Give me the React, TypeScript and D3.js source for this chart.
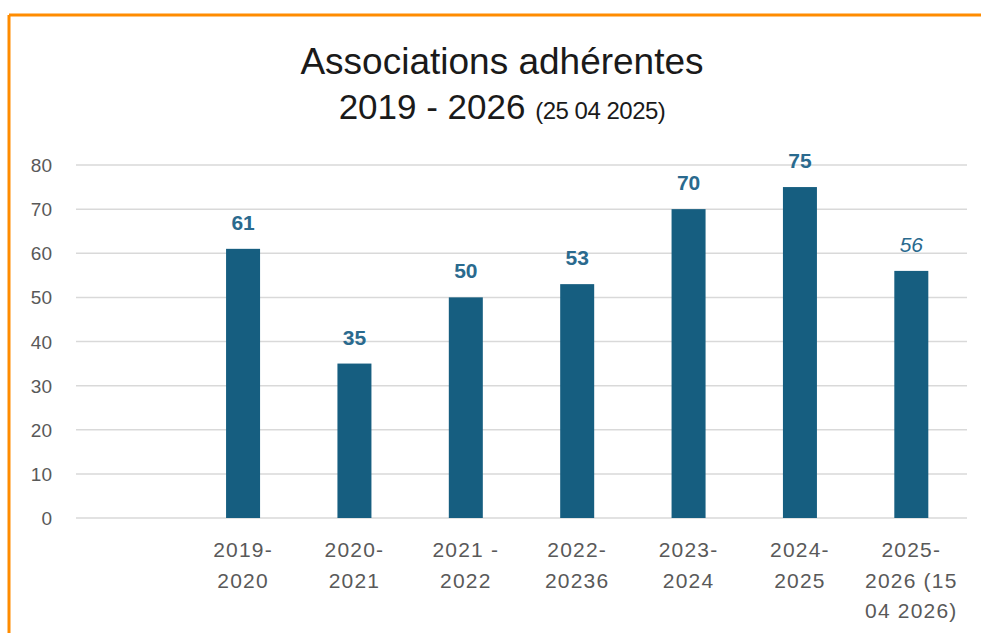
import React from "react";
import * as d3 from "d3";

const categories = ["", "2019-2020", "2020-2021", "2021-2022", "2022-20236", "2023-2024", "2024-2025", "2025-2026 (15 04 2026)"];
const categoryLines: string[][] = [[], ["2019-", "2020"], ["2020-", "2021"], ["2021 -", "2022"], ["2022-", "20236"], ["2023-", "2024"], ["2024-", "2025"], ["2025-", "2026 (15", "04 2026)"]];
const values: (number | null)[] = [null, 61, 35, 50, 53, 70, 75, 56];
const provisional = [false, false, false, false, false, false, false, true];
const yTicks = [0, 10, 20, 30, 40, 50, 60, 70, 80];

const W = 981;
const H = 633;
const left = 76;
const right = 967;
const top = 165;
const bottom = 518;
const font = "'Liberation Sans', Arial, sans-serif";

export default function App() {
  const x = d3.scaleBand<string>().domain(categories).range([left, right]).paddingInner(0.695).paddingOuter(0.3475);
  const y = d3.scaleLinear().domain([0, 80]).range([bottom, top]);
  const bw = 34;
  return (
    <svg width={W} height={H} style={{ position: "absolute", left: 0, top: 0, background: "#fff" }}>
      <rect x={0} y={0} width={W} height={H} fill="#fff" />
      <line x1={9} y1={15} x2={W} y2={15} stroke="#FF8C00" strokeWidth={3} />
      <line x1={9} y1={15} x2={9} y2={H} stroke="#FF8C00" strokeWidth={3} />
      <text x={502} y={74} textAnchor="middle" fontFamily={font} fontSize={37} fill="#1a1a1a">
        Associations adhérentes
      </text>
      <text x={502} y={119} textAnchor="middle" fontFamily={font} fill="#1a1a1a">
        <tspan fontSize={35}>2019 - 2026 </tspan>
        <tspan fontSize={24} letterSpacing={-0.5}>(25 04 2025)</tspan>
      </text>
      {yTicks.map((t) => (
        <g key={t}>
          <line x1={left} x2={right} y1={y(t)} y2={y(t)} stroke="#d9d9d9" strokeWidth={1.5} />
          <text x={52} y={y(t) + 7} textAnchor="end" fontFamily={font} fontSize={19} fill="#595959">
            {t}
          </text>
        </g>
      ))}
      {categories.map((c, i) => {
        const v = values[i];
        const cx = (x(c) as number) + x.bandwidth() / 2;
        return (
          <g key={i}>
            {v !== null && (
              <>
                <rect x={cx - bw / 2} y={y(v)} width={bw} height={y(0) - y(v)} fill="#165E80" />
                <text
                  x={cx}
                  y={y(v) - 19}
                  textAnchor="middle"
                  fontFamily={font}
                  fontSize={21}
                  fontWeight={provisional[i] ? "normal" : "bold"}
                  fontStyle={provisional[i] ? "italic" : "normal"}
                  fill="#2A6A8E"
                >
                  {v}
                </text>
              </>
            )}
            {categoryLines[i].map((ln, j) => (
              <text key={j} x={cx} y={557 + j * 30.5} textAnchor="middle" fontFamily={font} fontSize={21} letterSpacing={1.2} fill="#595959">
                {ln}
              </text>
            ))}
          </g>
        );
      })}
    </svg>
  );
}
